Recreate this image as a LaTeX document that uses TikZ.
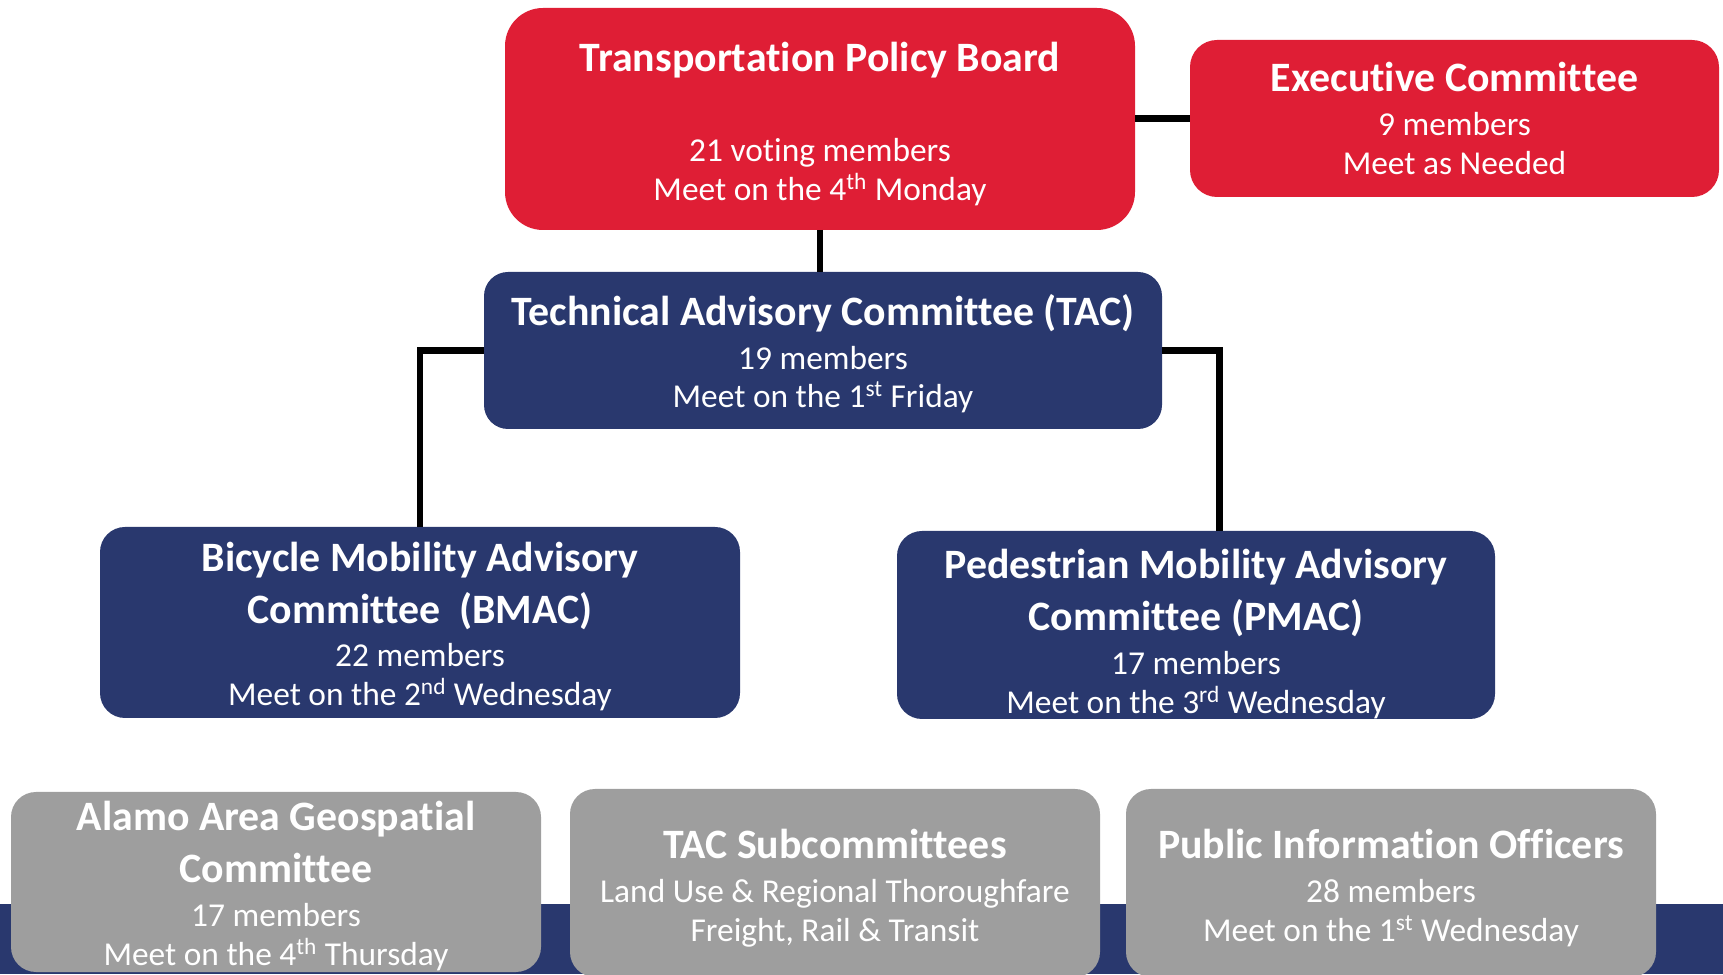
\documentclass[tikz,border=0pt]{standalone}
\usepackage{fontspec}
\setmainfont{Carlito}[Ligatures=NoCommon]

\definecolor{boardred}{RGB}{223,30,53}
\definecolor{tacnavy}{RGB}{41,56,110}
\definecolor{subgray}{RGB}{158,158,158}

\newcommand{\cmtitle}{\fontsize{23.8}{28.4}\selectfont\bfseries}
\newcommand{\cmbody}{\fontsize{19}{22}\selectfont}
% extra room above the first line, pushes the text block down a bit
\newcommand{\headroom}[1]{\rule{0pt}{#1}}

\begin{document}
\begin{tikzpicture}[
    box/.style={align=center, text=white, inner sep=0pt, outer sep=0pt, font=\cmbody, rounded corners=0.5cm},
    redbox/.style={box, fill=boardred},
    navybox/.style={box, fill=tacnavy},
    graybox/.style={box, fill=subgray, minimum width=10.6cm},
    wire/.style={line width=3.8pt, black}]
        \useasboundingbox (0, 0) rectangle (34.46, 19.48);
        % Footer band:
        \fill[tacnavy] (0, 0) rectangle (34.46, 1.40);
        % Boxes:
        \node[redbox, minimum width=12.6cm, minimum height=4.44cm, rounded corners=0.76cm](TPB) at (16.40, 17.10){{\cmtitle\headroom{22.5pt}Transportation Policy Board}\\[29pt]21 voting members\\Meet on the 4\textsuperscript{th} Monday};
        \node[redbox, minimum width=10.58cm, minimum height=3.14cm, rounded corners=0.54cm](EXC) at (29.09, 17.11){{\cmtitle Executive Committee}\\[3pt]9 members\\Meet as Needed};
        \node[navybox, minimum width=13.56cm, minimum height=3.14cm, rounded corners=0.48cm](TAC) at (16.46, 12.47){{\cmtitle\headroom{21.5pt}Technical Advisory Committee (TAC)}\\[3pt]19 members\\Meet on the 1\textsuperscript{st} Friday};
        \node[navybox, minimum width=12.8cm, minimum height=3.82cm](BMAC) at (8.40, 7.03){{\cmtitle\headroom{21.2pt}Bicycle Mobility Advisory}\\[7.5pt]{\cmtitle Committee~~(BMAC)}\\[3pt]22 members\\Meet on the 2\textsuperscript{nd} Wednesday};
        \node[navybox, minimum width=11.96cm, minimum height=3.76cm](PMAC) at (23.92, 6.98){{\cmtitle\headroom{27pt}Pedestrian Mobility Advisory}\\[7.5pt]{\cmtitle Committee (PMAC)}\\[3pt]17 members\\Meet on the 3\textsuperscript{rd} Wednesday};
        \node[graybox, minimum height=3.60cm](AAGC) at (5.52, 1.84){{\cmtitle\headroom{21.2pt}Alamo Area Geospatial}\\[7.5pt]{\cmtitle Committee}\\[3pt]17 members\\Meet on the 4\textsuperscript{th} Thursday};
        \node[graybox, minimum height=3.76cm](SUB) at (16.70, 1.82){{\cmtitle\headroom{22.5pt}TAC Subcommittees}\\[3pt]Land Use \& Regional Thoroughfare\\Freight, Rail \& Transit};
        \node[graybox, minimum height=3.76cm](PIO) at (27.82, 1.82){{\cmtitle\headroom{22.5pt}Public Information Officers}\\[3pt]28 members\\Meet on the 1\textsuperscript{st} Wednesday};
        % Wires:
        \draw[wire] (TPB.south) -- (TPB.south |- TAC.north);
        \draw[wire] (TPB.east |- EXC.west) -- (EXC.west);
        \draw[wire] (TAC.west) -| (BMAC.north);
        \draw[wire] (TAC.east) -| ([xshift=0.47cm]PMAC.north);
    \end{tikzpicture}
\end{document}
